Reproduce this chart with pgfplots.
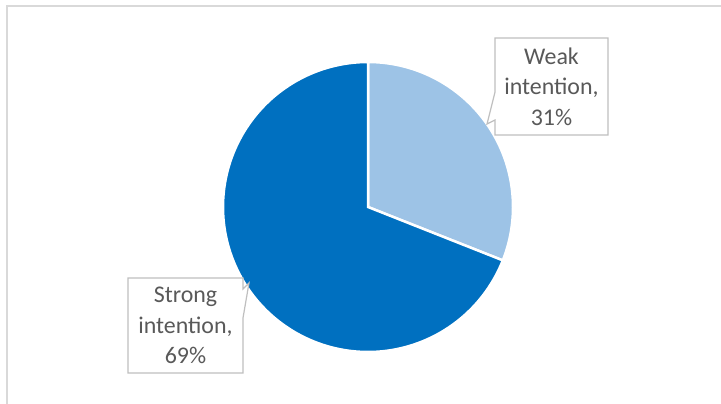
\documentclass[border=0pt]{standalone}
\usepackage{pgfplots}
\pgfplotsset{compat=1.18}
\usepackage{fontspec}
\setmainfont{Carlito}
\definecolor{weakc}{HTML}{9DC3E6}
\definecolor{strongc}{HTML}{0070C0}
\definecolor{txt}{HTML}{595959}
\definecolor{framec}{HTML}{D9D9D9}
\definecolor{callout}{HTML}{BFBFBF}
\def\weak{31}
\def\strong{69}
\pgfmathsetmacro\cut{90-3.6*\weak}
\pgfmathsetmacro\send{\cut-3.6*\strong}
\begin{document}
\begin{tikzpicture}
\begin{axis}[at={(0,0)},anchor=south west, scale only axis, width=721bp, height=404bp,
  xmin=0,xmax=721,ymin=0,ymax=404, hide axis, clip=false]
\draw[framec, line width=2bp] (axis cs:6.5,0) -- (axis cs:6.5,397.5) -- (axis cs:721,397.5);
\addplot[fill=weakc, draw=white, line width=2.5bp, domain=\cut:90, samples=90]
  ({368+145*cos(x)},{197+145*sin(x)}) -- (axis cs:368,197) -- cycle;
\addplot[fill=strongc, draw=white, line width=2.5bp, domain=\send:\cut, samples=180]
  ({368+145*cos(x)},{197+145*sin(x)}) -- (axis cs:368,197) -- cycle;
\draw[callout, line width=1.2bp, fill=white] (axis cs:495,366) -- (axis cs:608,366) -- (axis cs:608,269)
  -- (axis cs:495,269) -- (axis cs:495,284) -- (axis cs:487,280) -- (axis cs:495,312) -- cycle;
\draw[callout, line width=1.2bp, fill=white] (axis cs:128,126) -- (axis cs:243,126) -- (axis cs:243,115)
  -- (axis cs:249,121) -- (axis cs:243,86) -- (axis cs:243,31) -- (axis cs:128,31) -- cycle;
\node[text=txt, align=center, font=\fontsize{24}{30.5}\selectfont] at (axis cs:551.5,317.5) {Weak\\intention,\\31\%};
\node[text=txt, align=center, font=\fontsize{24}{30.5}\selectfont] at (axis cs:185.5,78.5) {Strong\\intention,\\69\%};
\end{axis}
\pgfresetboundingbox
\path (0,0) rectangle (721bp,404bp);
\end{tikzpicture}
\end{document}
